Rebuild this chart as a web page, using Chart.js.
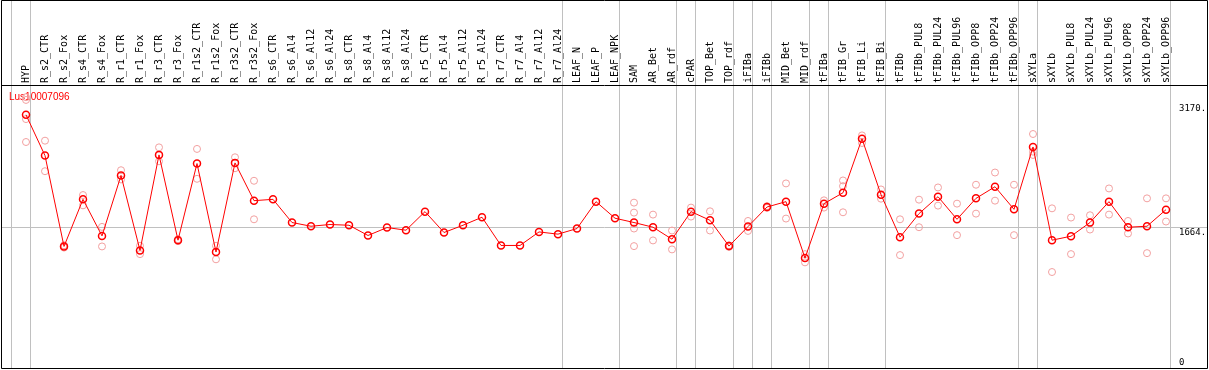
<!DOCTYPE html>
<html>
<head>
<meta charset="utf-8">
<script src="https://cdn.jsdelivr.net/npm/chart.js@4"></script>
<style>
  html, body { margin: 0; padding: 0; background: #fff; }
  #wrap { width: 1209px; height: 370px; }
</style>
</head>
<body>
<div id="wrap"><canvas id="probe"></canvas></div>
<script>
const categories = [
  "HYP", "R_s2_CTR", "R_s2_Fox", "R_s4_CTR", "R_s4_Fox", "R_r1_CTR", "R_r1_Fox",
  "R_r3_CTR", "R_r3_Fox", "R_r1s2_CTR", "R_r1s2_Fox", "R_r3s2_CTR", "R_r3s2_Fox",
  "R_s6_CTR", "R_s6_Al4", "R_s6_Al12", "R_s6_Al24", "R_s8_CTR", "R_s8_Al4",
  "R_s8_Al12", "R_s8_Al24", "R_r5_CTR", "R_r5_Al4", "R_r5_Al12", "R_r5_Al24",
  "R_r7_CTR", "R_r7_Al4", "R_r7_Al12", "R_r7_Al24", "LEAF_N", "LEAF_P", "LEAF_NPK",
  "SAM", "AR_Bet", "AR_rdf", "cPAR", "TOP_Bet", "TOP_rdf", "iFIBa", "iFIBb",
  "MID_Bet", "MID_rdf", "tFIBa", "tFIB_Gr", "tFIB_Li", "tFIB_Bi", "tFIBb",
  "tFIBb_PUL8", "tFIBb_PUL24", "tFIBb_PUL96", "tFIBb_OPP8", "tFIBb_OPP24",
  "tFIBb_OPP96", "sXYLa", "sXYLb", "sXYLb_PUL8", "sXYLb_PUL24", "sXYLb_PUL96",
  "sXYLb_OPP8", "sXYLb_OPP24", "sXYLb_OPP96",
];

// mean expression per sample
const means = [
  3027, 2532, 1431, 2002, 1559, 2291, 1383, 2541, 1507, 2436, 1363, 2444, 1986,
  2002, 1721, 1676, 1697, 1688, 1564, 1660, 1628, 1853, 1600, 1688, 1785,
  1443, 1443, 1607, 1580, 1648, 1974, 1773,
  1721, 1664, 1519, 1853, 1748, 1435, 1672, 1909, 1974, 1290, 1950, 2082,
  2737, 2058, 1543, 1829, 2034, 1760, 2014, 2155, 1881, 2637, 1507, 1555,
  1721, 1974, 1664, 1676, 1877,
];

// single replicates (pale circles), one list per sample
const replicates = [
  [3240, 3207, 2975, 2697], [2713, 2343], [1445, 1417], [2054, 1929], [1668, 1431],
  [2355, 2243], [1439, 1338], [2632, 2463], [1518, 1496], [2613, 2251],
  [1439, 1275], [2512, 2379], [2227, 1760],
  [], [], [], [], [], [], [], [], [], [], [], [], [], [], [], [], [], [], [],
  [1962, 1841, 1648, 1435], [1817, 1504], [1624, 1395], [1902, 1793], [1857, 1624],
  [1445, 1425], [1740, 1619], [1920, 1898], [2195, 1769], [1338, 1238],
  [1990, 1902], [2231, 2162, 1845], [2777, 2685], [2122, 2010], [1760, 1326],
  [1998, 1664], [2146, 1926], [1950, 1568], [2179, 1829], [2327, 1986],
  [2179, 1568], [2794, 2580, 2540], [1893, 1121], [1781, 1338], [1809, 1636],
  [2134, 1817], [1740, 1588], [2014, 1350], [2014, 1733],
];

const groupEnds = [-1, 0, 28, 31, 34, 35, 37, 38, 39, 41, 42, 45, 52, 53, 60];
const yTicks = [0, 1664, 3170];
const geneId = "Lus10007096";

var repPoints = [];
replicates.forEach(function (list, i) {
  list.forEach(function (v) {
    repPoints.push({ x: categories[i], y: v });
  });
});

const framePlugin = {
  id: "frame",
  beforeDatasetsDraw(chart) {
    const ctx = chart.ctx;
    const xs = chart.scales.x;
    const ys = chart.scales.y;
    ctx.save();
    ctx.strokeStyle = "#c0c0c0";
    ctx.lineWidth = 1;
    ctx.beginPath();
    groupEnds.forEach(function (i) {
      var px = Math.floor(xs.getPixelForValue(i + 0.25)) + 0.5;
      ctx.moveTo(px, 0);
      ctx.lineTo(px, chart.height - 2);
    });
    var py = Math.round(ys.getPixelForValue(yTicks[1])) + 0.5;
    ctx.moveTo(2, py);
    ctx.lineTo(chart.width - 2, py);
    ctx.stroke();
    ctx.fillStyle = "red";
    ctx.font = "10px 'Liberation Sans', Arial, sans-serif";
    ctx.textBaseline = "top";
    ctx.fillText(geneId, 9, 92);
    ctx.restore();
  },
  afterDraw(chart) {
    const ctx = chart.ctx;
    const ys = chart.scales.y;
    const w = chart.width;
    const h = chart.height;
    ctx.save();
    ctx.strokeStyle = "#000";
    ctx.lineWidth = 1;
    ctx.beginPath();
    ctx.moveTo(1.5, 0.5);
    ctx.lineTo(w - 1.5, 0.5);
    ctx.lineTo(w - 1.5, h - 1.5);
    ctx.lineTo(1.5, h - 1.5);
    ctx.closePath();
    ctx.moveTo(1.5, 85.5);
    ctx.lineTo(w - 1.5, 85.5);
    ctx.stroke();
    ctx.fillStyle = "#000";
    ctx.font = "9px 'DejaVu Sans Mono', monospace";
    ctx.textBaseline = "top";
    yTicks.forEach(function (v) {
      var y = Math.min(ys.getPixelForValue(v) + 1, h - 12);
      ctx.fillText(v === 0 ? "0" : v + ".", 1179, y);
    });
    ctx.restore();
  },
};

new Chart("probe", {
  type: "line",
  data: {
    labels: categories,
    datasets: [
      {
        data: means,
        order: 1,
        borderColor: "#ff0000",
        borderWidth: 1,
        lineTension: 0,
        fill: false,
        pointStyle: "circle",
        pointRadius: 3.5,
        pointBorderWidth: 1.5,
        pointBorderColor: "#ff0000",
        pointBackgroundColor: "rgba(255,255,255,0)",
      },
      {
        data: repPoints,
        order: 2,
        showLine: false,
        pointStyle: "circle",
        pointRadius: 3.5,
        pointBorderWidth: 1,
        pointBorderColor: "#f2a0a0",
        pointBackgroundColor: "rgba(255,255,255,0)",
      },
    ],
  },
  options: {
    responsive: true,
    maintainAspectRatio: false,
    animation: false,
    events: [],
    layout: { padding: { left: 16.5, right: 33.5, top: 0, bottom: 4 } },
    plugins: { legend: { display: false }, tooltip: { enabled: false } },
    scales: {
      x: {
        position: "top",
        offset: true,
        grid: { display: false, drawTicks: false },
        border: { display: false },
        ticks: {
          autoSkip: false,
          maxRotation: 90,
          minRotation: 90,
          padding: 2,
          labelOffset: 12,
          color: "#000",
          font: { family: "'DejaVu Sans Mono', monospace", size: 10 },
        },
        afterFit: function (scale) {
          scale.height = 85;
        },
      },
      y: {
        display: false,
        min: 0,
        max: 3388,
      },
    },
  },
  plugins: [framePlugin],
});
</script>
</body>
</html>
